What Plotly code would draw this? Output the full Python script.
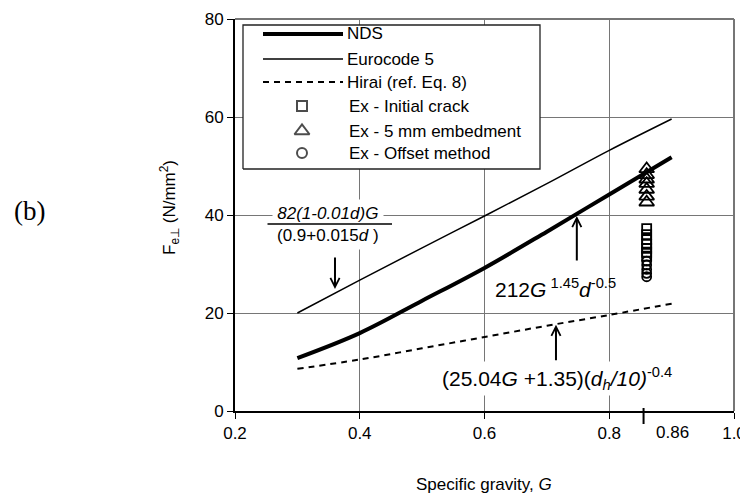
import plotly.graph_objects as go

# ---------------- data ----------------
G_curve = [0.3, 0.4, 0.5, 0.6, 0.7, 0.8, 0.9]
nds = [10.8, 15.9, 22.5, 29.2, 36.6, 44.2, 51.8]
eurocode = [20.0, 26.7, 33.3, 39.8, 46.4, 53.2, 59.6]
hirai = [8.6, 10.5, 12.8, 15.1, 17.4, 19.6, 21.9]

G_ex = 0.86
ex_initial = [37.2, 36.0, 35.0, 34.0, 33.2, 32.4, 31.6]
ex_5mm = [49.4, 48.2, 47.3, 46.4, 45.2, 43.8, 42.6]
ex_offset = [30.6, 29.8, 28.9, 28.1, 27.4]

x_range = [0.2, 1.0]
y_range = [0, 80]
x_ticks = [0.2, 0.4, 0.6, 0.8, 1.0]
x_ticktext = ["0.2", "0.4", "0.6", "0.8", "1.0"]
y_ticks = [0, 20, 40, 60, 80]

legend_names = ["NDS", "Eurocode 5", "Hirai (ref. Eq. 8)",
                "Ex - Initial crack", "Ex - 5 mm embedment", "Ex - Offset method"]

# ---------------- layout helpers ----------------
OFF = 8                      # page body margin in the browser
W, H = 748 - OFF, 493 - OFF
L, R, T, B = 235, 734, 19, 411  # plot area in page pixels
FONT = "Arial, Liberation Sans, sans-serif"
GRID = "#767676"


def px(x):
    return (x - L) / (R - L)


def py(y):
    return (B - y) / (B - T)


def gx(x):  # page pixel -> data G
    return x_range[0] + px(x) * (x_range[1] - x_range[0])


def vy(y):  # page pixel -> data value
    return y_range[0] + py(y) * (y_range[1] - y_range[0])


fig = go.Figure()

# legend background (white box hiding the grid)
leg_box = (243, 540, 25, 169)
fig.add_trace(go.Scatter(x=[gx(leg_box[0]), gx(leg_box[1]), gx(leg_box[1]), gx(leg_box[0]), gx(leg_box[0])],
                         y=[vy(leg_box[3]), vy(leg_box[3]), vy(leg_box[2]), vy(leg_box[2]), vy(leg_box[3])],
                         mode="lines", fill="toself", fillcolor="white",
                         line=dict(color="#222222", width=1.3), showlegend=False, hoverinfo="skip"))

fig.add_trace(go.Scatter(x=G_curve, y=nds, mode="lines", line=dict(color="black", width=4, shape="spline"),
                         name=legend_names[0]))
fig.add_trace(go.Scatter(x=G_curve, y=eurocode, mode="lines", line=dict(color="black", width=1.5, shape="spline"),
                         name=legend_names[1]))
fig.add_trace(go.Scatter(x=G_curve, y=hirai, mode="lines",
                         line=dict(color="black", width=2, dash="6px,5px", shape="spline"),
                         name=legend_names[2]))

fig.add_trace(go.Scatter(x=[G_ex] * len(ex_initial), y=ex_initial, mode="markers",
                         marker=dict(symbol="square-open", size=9, color="black", line=dict(width=1.8)),
                         name=legend_names[3]))
fig.add_trace(go.Scatter(x=[G_ex] * len(ex_5mm), y=ex_5mm, mode="markers",
                         marker=dict(symbol="triangle-up-open", size=13, color="black", line=dict(width=1.8)),
                         name=legend_names[4]))
fig.add_trace(go.Scatter(x=[G_ex] * len(ex_offset), y=ex_offset, mode="markers",
                         marker=dict(symbol="circle-open", size=9, color="black", line=dict(width=1.8)),
                         name=legend_names[5]))

# ---------------- manual legend ----------------
shapes = []
annotations = []
row_y = [34, 59, 82, 106, 131, 153]
line_styles = [dict(width=4), dict(width=1.5), dict(width=2, dash="6px,5px")]
for i in range(3):
    shapes.append(dict(type="line", xref="paper", yref="paper", x0=px(263), x1=px(343),
                       y0=py(row_y[i]), y1=py(row_y[i]), line=dict(color="black", **line_styles[i]),
                       layer="above"))
for i, name in enumerate(legend_names):
    annotations.append(dict(text=name, xref="paper", yref="paper", x=px(345 if i < 3 else 347),
                            y=py(row_y[i]), xanchor="left", yanchor="middle", showarrow=False,
                            font=dict(family=FONT, size=17, color="black")))

fig.add_trace(go.Scatter(x=[gx(302)] * 3, y=[vy(v) for v in row_y[3:]], mode="markers",
                         marker=dict(symbol=["square-open", "triangle-up-open", "circle-open"],
                                     size=[10, 13, 10], color="black", line=dict(width=2)),
                         showlegend=False, hoverinfo="skip"))

# ---------------- plot border (top/right grey) ----------------
shapes.append(dict(type="line", xref="paper", yref="paper", x0=0, x1=1, y0=1, y1=1,
                   line=dict(color=GRID, width=2), layer="below"))
shapes.append(dict(type="line", xref="paper", yref="paper", x0=1, x1=1, y0=0, y1=1,
                   line=dict(color=GRID, width=2), layer="below"))
# special 0.86 tick
shapes.append(dict(type="line", xref="x", yref="paper", x0=0.855, x1=0.855, y0=py(408), y1=py(424),
                   line=dict(color="black", width=2), layer="above"))
annotations.append(dict(text="0.86", xref="x", yref="paper", x=0.902, y=py(433), showarrow=False,
                        xanchor="center", yanchor="middle", font=dict(family=FONT, size=17, color="black")))

# ---------------- equation annotations ----------------
annotations.append(dict(text="<i>82(1-0.01d)G</i><br>(0.9+0.015<i>d</i> )", xref="paper", yref="paper",
                        x=px(328), y=py(224), xanchor="center", yanchor="middle", showarrow=False,
                        bgcolor="white", borderpad=4, align="center",
                        font=dict(family=FONT, size=17, color="black")))
annotations.append(dict(text="", xref="paper", yref="paper", x=px(392), y=py(224), ax=-126, ay=0,
                        showarrow=True, arrowhead=0, arrowwidth=1.3, arrowcolor="black"))
annotations.append(dict(text="", xref="x", yref="y", x=0.3603, y=24.9, ax=0, ay=-33,
                        showarrow=True, arrowhead=5, arrowsize=0.9, arrowwidth=2, arrowcolor="black"))
annotations.append(dict(text="212<i>G</i><sup> 1.45</sup><i>d</i><sup>-0.5</sup>", xref="paper", yref="paper",
                        x=px(555), y=py(288), xanchor="center", yanchor="middle", showarrow=False,
                        font=dict(family=FONT, size=21, color="black")))
annotations.append(dict(text="", xref="x", yref="y", x=0.748, y=39.8, ax=0, ay=46,
                        showarrow=True, arrowhead=5, arrowsize=0.9, arrowwidth=2, arrowcolor="black"))
annotations.append(dict(text="(25.04<i>G</i> +1.35)(<i>d<sub>h</sub>/10)</i><sup>-0.4</sup>",
                        xref="paper", yref="paper", x=px(557), y=py(378), xanchor="center", yanchor="middle",
                        showarrow=False, bgcolor="white", borderpad=2,
                        font=dict(family=FONT, size=21, color="black")))
annotations.append(dict(text="", xref="x", yref="y", x=0.7146, y=17.6, ax=0, ay=37,
                        showarrow=True, arrowhead=5, arrowsize=0.9, arrowwidth=2, arrowcolor="black"))

# ---------------- axis titles and panel label ----------------
annotations.append(dict(text="F<sub>e⊥</sub> (N/mm<sup>2</sup>)", xref="paper", yref="paper",
                        x=px(170), y=py(208), textangle=-90, showarrow=False, xanchor="center",
                        yanchor="middle", font=dict(family=FONT, size=17, color="black")))
annotations.append(dict(text="Specific gravity, <i>G</i>", xref="paper", yref="paper",
                        x=px(484), y=py(484), showarrow=False, xanchor="center", yanchor="middle",
                        font=dict(family=FONT, size=17, color="black")))
annotations.append(dict(text="(b)", xref="paper", yref="paper", x=px(29), y=py(211), showarrow=False,
                        xanchor="center", yanchor="middle",
                        font=dict(family="Times New Roman, Liberation Serif, serif", size=27, color="black")))

fig.update_layout(
    width=W, height=H,
    margin=dict(l=L - OFF, r=W - (R - OFF), t=T - OFF, b=H - (B - OFF), autoexpand=False),
    paper_bgcolor="white", plot_bgcolor="white",
    showlegend=False,
    font=dict(family=FONT, size=17, color="black"),
    xaxis=dict(range=x_range, tickvals=x_ticks, ticktext=x_ticktext, showgrid=True,
               gridcolor=GRID, gridwidth=1.2, showline=True, linecolor="black", linewidth=2,
               ticks="outside", ticklen=6, tickcolor="black", tickwidth=1, zeroline=False,
               tickfont=dict(family=FONT, size=17, color="black")),
    yaxis=dict(range=y_range, tickvals=y_ticks, showgrid=True, gridcolor=GRID, gridwidth=1.2,
               showline=True, linecolor="black", linewidth=2, ticks="outside", ticklen=6,
               tickcolor="black", tickwidth=1, zeroline=False,
               tickfont=dict(family=FONT, size=17, color="black")),
    shapes=shapes,
    annotations=annotations,
)

fig.write_html("out.html")
